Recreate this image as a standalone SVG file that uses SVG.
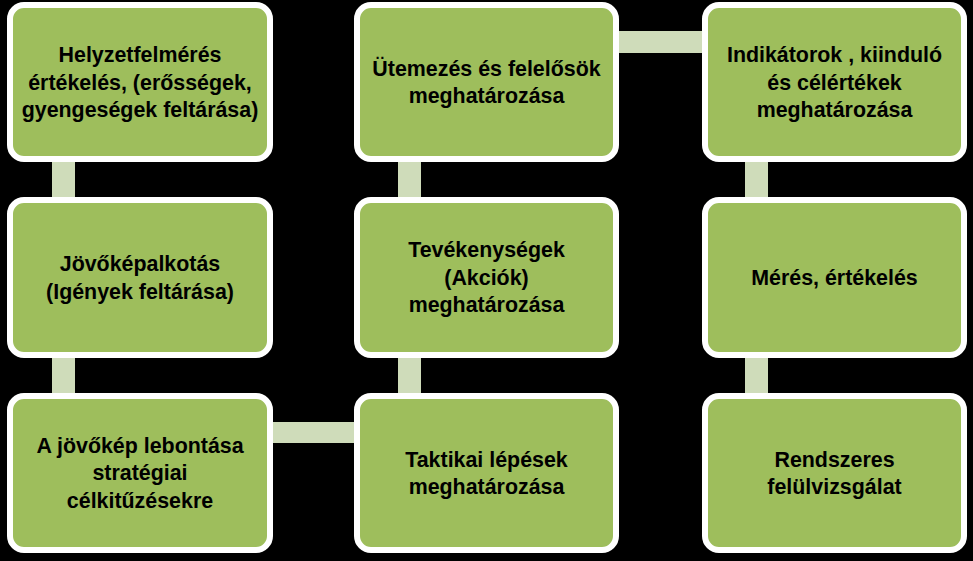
<svg xmlns="http://www.w3.org/2000/svg" width="973" height="561" viewBox="0 0 973 561">
<style>
.box{fill:#9EBE5C;stroke:#FFFFFF;stroke-width:6}
.lbl{font-family:"Liberation Sans",Arial,sans-serif;font-weight:bold;font-size:21.4px;fill:#000;text-anchor:middle}
.con{fill:#CFDCBA}
</style>
<rect x="0" y="0" width="973" height="561" fill="#000"/>
<g id="connectors">
<rect class="con" x="52" y="159" width="23" height="41"/>
<rect class="con" x="52" y="355" width="23" height="41"/>
<rect class="con" x="270" y="422" width="87" height="21"/>
<rect class="con" x="398" y="355" width="23" height="41"/>
<rect class="con" x="398" y="159" width="23" height="41"/>
<rect class="con" x="616" y="31" width="89" height="22"/>
<rect class="con" x="745" y="159" width="23" height="41"/>
<rect class="con" x="745" y="355" width="23" height="41"/>
</g>
<g id="n1">
<rect class="box" x="10" y="5" width="260" height="154" rx="14"/>
<text class="lbl" x="140" y="62">Helyzetfelmérés</text>
<text class="lbl" x="140" y="89.5">értékelés, (erősségek,</text>
<text class="lbl" x="140" y="117">gyengeségek feltárása)</text>
</g>
<g id="n2">
<rect class="box" x="10" y="200" width="260" height="155" rx="14"/>
<text class="lbl" x="140" y="271">Jövőképalkotás</text>
<text class="lbl" x="140" y="298.5">(Igények feltárása)</text>
</g>
<g id="n3">
<rect class="box" x="10" y="396" width="260" height="154" rx="14"/>
<text class="lbl" x="140" y="452.5">A jövőkép lebontása</text>
<text class="lbl" x="140" y="480">stratégiai</text>
<text class="lbl" x="140" y="507.5">célkitűzésekre</text>
</g>
<g id="n4">
<rect class="box" x="357" y="396" width="259" height="154" rx="14"/>
<text class="lbl" x="486.5" y="466.5">Taktikai lépések</text>
<text class="lbl" x="486.5" y="494">meghatározása</text>
</g>
<g id="n5">
<rect class="box" x="357" y="200" width="259" height="155" rx="14"/>
<text class="lbl" x="486.5" y="257">Tevékenységek</text>
<text class="lbl" x="486.5" y="284.5">(Akciók)</text>
<text class="lbl" x="486.5" y="312">meghatározása</text>
</g>
<g id="n6">
<rect class="box" x="357" y="5" width="259" height="154" rx="14"/>
<text class="lbl" x="486.5" y="75.5">Ütemezés és felelősök</text>
<text class="lbl" x="486.5" y="103">meghatározása</text>
</g>
<g id="n7">
<rect class="box" x="705" y="5" width="259" height="154" rx="14"/>
<text class="lbl" x="834.5" y="62">Indikátorok , kiinduló</text>
<text class="lbl" x="834.5" y="89.5">és célértékek</text>
<text class="lbl" x="834.5" y="117">meghatározása</text>
</g>
<g id="n8">
<rect class="box" x="705" y="200" width="259" height="155" rx="14"/>
<text class="lbl" x="834.5" y="284.5">Mérés, értékelés</text>
</g>
<g id="n9">
<rect class="box" x="705" y="396" width="259" height="154" rx="14"/>
<text class="lbl" x="834.5" y="466.5">Rendszeres</text>
<text class="lbl" x="834.5" y="494">felülvizsgálat</text>
</g>
</svg>
